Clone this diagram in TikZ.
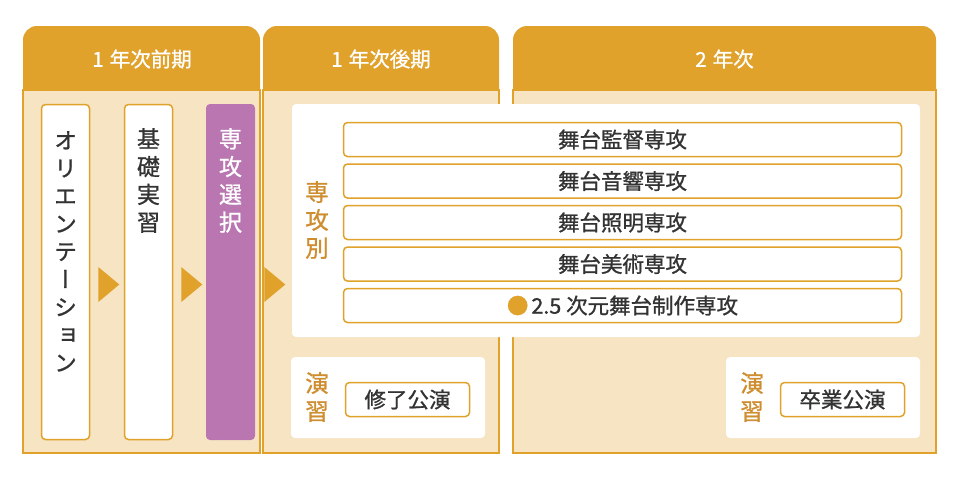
\documentclass[tikz,border=0pt]{standalone}
\usepackage{fontspec}
\setmainfont{Noto Sans CJK JP}[FakeBold=1]
\newfontfamily\tateFont{Noto Sans CJK JP}[RawFeature=+vert, FakeBold=1]
\usetikzlibrary{shapes.geometric}
\usetikzlibrary{positioning}

\definecolor{gakuOrange}{HTML}{E0A22A}
\definecolor{gakuLabel}{HTML}{CE8D2E}
\definecolor{gakuBeige}{HTML}{F6E4C3}
\definecolor{gakuPurple}{HTML}{B976B1}
\definecolor{gakuText}{HTML}{333333}

\tikzstyle{header} = [fill=gakuOrange, rounded corners=14pt]
\tikzstyle{body} = [fill=gakuBeige, draw=gakuOrange, line width=1.5pt]
\tikzstyle{area} = [fill=white, rounded corners=4pt]
\tikzstyle{yearTitle} = [text=white, inner sep=0pt, font=\fontsize{20.5}{20.5}\selectfont]
\tikzstyle{phase} = [rectangle, rounded corners=4pt, draw=gakuOrange, fill=white, line width=1.5pt, minimum width=48pt, minimum height=335pt, inner sep=0pt]
\tikzstyle{choice} = [phase, draw=none, fill=gakuPurple, minimum width=49pt, minimum height=336pt]
\tikzstyle{tate} = [align=center, inner sep=0pt, anchor=north, text=gakuText, font=\tateFont\fontsize{23}{27.8}\selectfont]
\tikzstyle{tag} = [align=center, inner sep=0pt, text=gakuLabel, font=\tateFont\fontsize{23.5}{28}\selectfont]
\tikzstyle{course} = [rectangle, rounded corners=4pt, draw=gakuOrange, fill=white, line width=1.5pt, minimum width=558pt, minimum height=34pt, inner sep=0pt, text=gakuText, font=\fontsize{21.5}{21.5}\selectfont]
\tikzstyle{stage} = [course, minimum width=124pt]
\tikzstyle{stepArrow} = [isosceles triangle, isosceles triangle stretches, fill=gakuOrange, minimum width=35pt, minimum height=21pt, inner sep=0pt]

\begin{document}
\begin{tikzpicture}[x=1pt, y=-1pt]
    \useasboundingbox (0,0) rectangle (960,480);

    % year panels
    \fill [header] (23,26) rectangle (260,104);
    \filldraw [body] (23,90) rectangle (260,453);
    \fill [header] (263,26) rectangle (499,104);
    \filldraw [body] (263,90) rectangle (499,453);
    \fill [header] (513,26) rectangle (936,104);
    \filldraw [body] (513,90) rectangle (936,453);

    \node (termA) [yearTitle] at (142,59) {1\hspace{1.5pt} 年次前期};
    \node (termB) [yearTitle] at (381,59) {1\hspace{1.5pt} 年次後期};
    \node (termC) [yearTitle] at (724.5,59) {2\hspace{1.5pt} 年次};

    % first half
    \node (orient) [phase] at (65.5,272) {};
    \node (kiso) [phase] at (148.5,272) {};
    \node (senkou) [choice] at (230.5,272) {};

    \node (orientText) [tate] at (65.5,131) {オ\\リ\\エ\\ン\\テ\\ー\\シ\\ョ\\ン};
    \node (kisoText) [tate] at (148.5,128) {基\\礎\\実\\習};
    \node (senkouText) [tate, text=white] at (230.5,128) {専\\攻\\選\\択};

    \node (toKiso) [stepArrow] at (106.5,284.5) {};
    \node (toSenkou) [stepArrow] at (189.5,284.5) {};
    \node (toMajor) [stepArrow] at (272.5,284.5) {};

    % majors
    \fill [area] (292,104) rectangle (920,337);
    \node (majorTag) [tag] at (317,220) {専\\攻\\別};

    \node (direction) [course] at (622.5,139.5) {舞台監督専攻};
    \node (sound) [course, below=6pt of direction] {舞台音響専攻};
    \node (lighting) [course, below=6pt of sound] {舞台照明専攻};
    \node (art) [course, below=6pt of lighting] {舞台美術専攻};
    \node (stage25) [course, below=6pt of art] {{\color{gakuOrange}●}\hspace{3pt}2.5 次元舞台制作専攻};

    % practice
    \fill [area] (291,357) rectangle (485,438);
    \fill [area] (726,357) rectangle (920,438);

    \node (practiceA) [tag] at (317,397) {演\\習};
    \node (practiceB) [tag] at (752,397) {演\\習};

    \node (shuryo) [stage] at (407.5,399.5) {修了公演};
    \node (sotsugyo) [stage] at (842.5,399.5) {卒業公演};

\end{tikzpicture}
\end{document}
